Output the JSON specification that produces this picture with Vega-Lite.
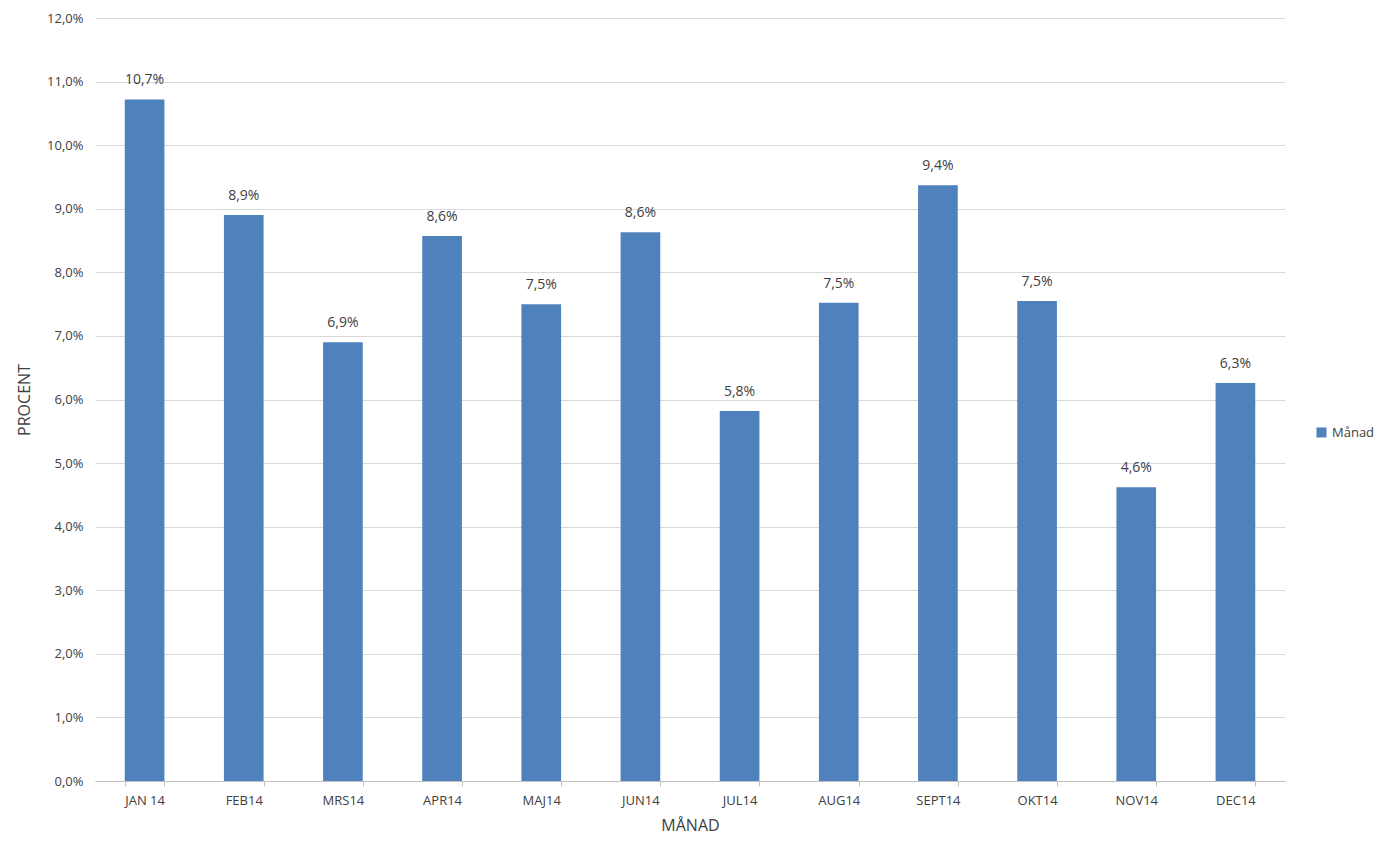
{
"$schema":"https://vega.github.io/schema/vega-lite/v6.json",
"width":1190,"height":763,
"autosize":"none",
"padding":{"left":95,"top":18,"right":94,"bottom":68},
"config":{"locale":{"number":{"decimal":",","thousands":" ","grouping":[3],"currency":["",""]}},"font":"Open Sans","view":{"stroke":null}},
"data":{"values":[
{"m":"JAN 14","v":0.1072,"s":"Månad"},{"m":"FEB14","v":0.089,"s":"Månad"},{"m":"MRS14","v":0.0690,"s":"Månad"},{"m":"APR14","v":0.0857,"s":"Månad"},{"m":"MAJ14","v":0.0750,"s":"Månad"},{"m":"JUN14","v":0.0863,"s":"Månad"},{"m":"JUL14","v":0.0582,"s":"Månad"},{"m":"AUG14","v":0.0752,"s":"Månad"},{"m":"SEPT14","v":0.0937,"s":"Månad"},{"m":"OKT14","v":0.0755,"s":"Månad"},{"m":"NOV14","v":0.0462,"s":"Månad"},{"m":"DEC14","v":0.0626,"s":"Månad"}]},
"encoding":{
"x":{"field":"m","type":"nominal","sort":null,"scale":{"paddingInner":0.6,"paddingOuter":0.3},"axis":{"title":"MÅNAD","labelAngle":0,"labelFontSize":13,"labelColor":"#404040","titleFontSize":16,"titleFontWeight":"normal","titleColor":"#404040","domainColor":"#BFBFBF","tickColor":"#BFBFBF","tickBand":"extent","labelPadding":8,"titlePadding":10}},
"y":{"field":"v","type":"quantitative","scale":{"domain":[0,0.12]},"axis":{"title":"PROCENT","format":".1%","values":[0,0.01,0.02,0.03,0.04,0.05,0.06,0.07,0.08,0.09,0.1,0.11,0.12],"labelOverlap":false,"labelFontSize":13,"labelColor":"#404040","titleFontSize":16,"titleFontWeight":"normal","titleColor":"#404040","domain":false,"ticks":false,"gridColor":"#D9D9D9","labelPadding":12,"titlePadding":14}}
},
"layer":[
{"mark":{"type":"bar","color":"#4F81BD"},"encoding":{"color":{"field":"s","type":"nominal","scale":{"range":["#4F81BD"]},"legend":{"title":null,"orient":"none","legendX":1220,"legendY":408,"labelFontSize":13,"labelColor":"#404040","symbolType":"square","symbolSize":100}}}},
{"mark":{"type":"text","dy":-19,"fontSize":14,"color":"#404040"},"encoding":{"text":{"field":"v","type":"quantitative","format":".1%"}}}
]
}
